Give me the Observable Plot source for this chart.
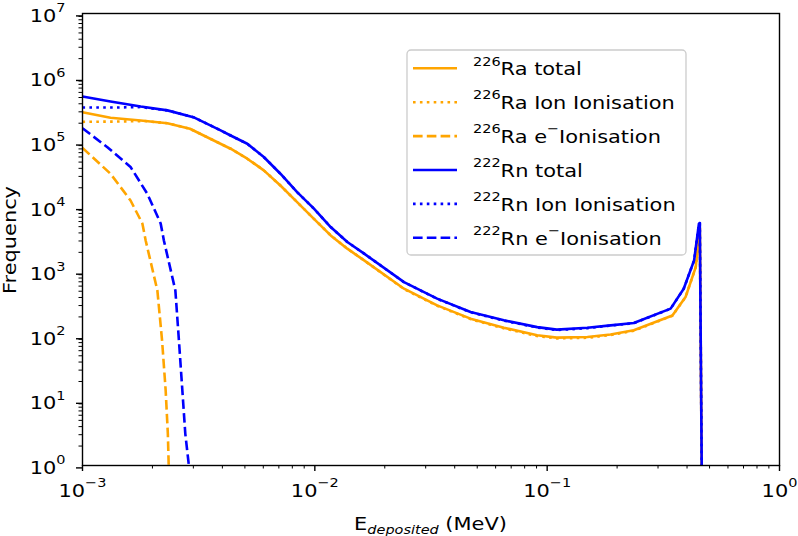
<!DOCTYPE html>
<html>
<head>
<meta charset="utf-8">
<script src="https://cdn.jsdelivr.net/npm/d3@7"></script>
<script src="https://cdn.jsdelivr.net/npm/@observablehq/plot@0.6"></script>
<style>
  html, body { margin: 0; padding: 0; background: #fff; }
  #chart { width: 798px; height: 536px; }
</style>
</head>
<body>
<div id="chart"></div>
<script>
// ---- Data ----
const raTotalE = [0.001, 0.00132, 0.00178, 0.00232, 0.0029, 0.00434, 0.00512, 0.00603, 0.00711, 0.00839, 0.00991, 0.0117, 0.0138, 0.0163, 0.0242, 0.0336, 0.0468, 0.0651, 0.0906, 0.110, 0.149, 0.1875, 0.236, 0.346, 0.394, 0.436, 0.454, 0.4625];
const raTotalF = [2.96e5, 2.43e5, 2.2e5, 2.0e5, 1.64e5, 8.05e4, 5.64e4, 3.72e4, 2.17e4, 1.2e4, 6.6e3, 3.66e3, 2.28e3, 1.5e3, 547, 302, 188, 136, 104, 95.5, 97.5, 107, 124, 211, 406, 1180, 4800, 1];

const raIonE = [0.001, 0.0014, 0.00185, 0.00232, 0.0029, 0.00434, 0.00512, 0.00603, 0.00711, 0.00839, 0.00991, 0.0117, 0.0138, 0.0163, 0.0242, 0.0336, 0.0468, 0.0651, 0.0906, 0.110, 0.149, 0.1875, 0.236, 0.346, 0.394, 0.436, 0.454, 0.4625];
const raIonF = [2.1e5, 2.12e5, 2.16e5, 2.0e5, 1.64e5, 8.05e4, 5.64e4, 3.72e4, 2.17e4, 1.2e4, 6.6e3, 3.66e3, 2.28e3, 1.5e3, 540, 298, 185, 133, 101, 93, 95, 105, 122, 209, 404, 1180, 4800, 1];

const raElecE = [0.001, 0.00132, 0.00161, 0.00181, 0.00187, 0.0021, 0.0022, 0.00228, 0.00233, 0.00235];
const raElecF = [8.3e4, 3.3e4, 1.27e4, 5.6e3, 3.06e3, 515, 87, 14.6, 3.1, 1];

const rnTotalE = [0.001, 0.00132, 0.00178, 0.00232, 0.003, 0.00393, 0.00434, 0.00512, 0.00603, 0.00711, 0.00839, 0.00991, 0.0117, 0.0138, 0.0163, 0.0242, 0.0336, 0.0468, 0.0651, 0.0906, 0.110, 0.149, 0.1875, 0.236, 0.34, 0.387, 0.429, 0.45, 0.454, 0.4625];
const rnTotalF = [5.2e5, 4.35e5, 3.63e5, 3.16e5, 2.48e5, 1.55e5, 1.29e5, 9.6e4, 6.0e4, 3.3e4, 1.71e4, 9.5e3, 4.93e3, 2.89e3, 1.91e3, 693, 384, 238, 177, 139, 127, 136, 148, 161, 269, 547, 1500, 5560, 5680, 1];

const rnIonE = [0.001, 0.0014, 0.00178, 0.00232, 0.003, 0.00393, 0.00434, 0.00512, 0.00603, 0.00711, 0.00839, 0.00991, 0.0117, 0.0138, 0.0163, 0.0242, 0.0336, 0.0468, 0.0651, 0.0906, 0.110, 0.149, 0.1875, 0.236, 0.34, 0.387, 0.429, 0.45, 0.454, 0.4625];
const rnIonF = [3.5e5, 3.5e5, 3.56e5, 3.16e5, 2.48e5, 1.55e5, 1.29e5, 9.6e4, 6.0e4, 3.3e4, 1.71e4, 9.5e3, 4.93e3, 2.89e3, 1.91e3, 690, 382, 236, 175, 137, 125, 134, 147, 160, 268, 545, 1500, 5560, 5680, 1];

const rnElecE = [0.001, 0.00128, 0.00161, 0.0019, 0.00217, 0.00224, 0.00251, 0.0026, 0.00269, 0.00277, 0.00287];
const rnElecF = [1.67e5, 8.5e4, 4.2e4, 1.62e4, 5.6e3, 3.06e3, 515, 87, 14.6, 3.1, 1];

const seriesLabels = ["^{226}Ra total", "^{226}Ra Ion Ionisation", "^{226}Ra e^{\u2212}Ionisation",
                      "^{222}Rn total", "^{222}Rn Ion Ionisation", "^{222}Rn e^{\u2212}Ionisation"];
const seriesColors = ["orange", "orange", "orange", "blue", "blue", "blue"];
const seriesDashes = [null, "2.6,4.3", "9.6,4.2", null, "2.6,4.3", "9.6,4.2"];
const seriesE = [raTotalE, raIonE, raElecE, rnTotalE, rnIonE, rnElecE];
const seriesF = [raTotalF, raIonF, raElecF, rnTotalF, rnIonF, rnElecF];

const xMajor = [1e-3, 1e-2, 1e-1, 1];
const yMajor = [1, 10, 100, 1e3, 1e4, 1e5, 1e6, 1e7];
const minorMult = [2, 3, 4, 5, 6, 7, 8, 9];
const xMinor = xMajor.slice(0, -1).flatMap(d => minorMult.map(m => d * m));
const yMinor = yMajor.slice(0, -1).flatMap(d => minorMult.map(m => d * m));

const expFmt = d => "10^" + String(Math.round(Math.log10(d))).replace("-", "\u2212");

const FS = 18.5;      // main font size
const SUP = 12.8;     // superscript font size
const STRETCH = 1.13; // horizontal glyph widening to match the reference

// ---- Plot ----
const lineMarks = seriesE.map((E, k) =>
  Plot.line(E.map((e, i) => ({e, f: seriesF[k][i]})), {
    x: "e", y: "f",
    stroke: seriesColors[k],
    strokeWidth: 2.6,
    strokeDasharray: seriesDashes[k] || undefined,
    strokeLinecap: "butt",
    strokeLinejoin: "round",
    clip: true
  })
);

const chart = Plot.plot({
  width: 798,
  height: 536,
  marginLeft: 82,
  marginRight: 19,
  marginTop: 13,
  marginBottom: 71,
  style: {fontFamily: "'DejaVu Sans', sans-serif", fontSize: FS + "px", background: "white", color: "black"},
  x: {type: "log", domain: [1e-3, 1]},
  y: {type: "log", domain: [1, 1e7]},
  marks: [
    ...lineMarks,
    Plot.axisX({ticks: xMinor, tickSize: 3.5, strokeWidth: 1, tickFormat: () => "", label: null}),
    Plot.axisX({ticks: xMajor, tickSize: 6, strokeWidth: 1.4, tickPadding: 11.9, tickFormat: expFmt, label: null}),
    Plot.axisY({ticks: yMinor, tickSize: 3.5, strokeWidth: 1, tickFormat: () => "", label: null}),
    Plot.axisY({ticks: yMajor, tickSize: 6, strokeWidth: 1.4, tickPadding: 11, dy: 2.4, tickFormat: expFmt, label: null}),
    Plot.frame({stroke: "black", strokeWidth: 1.4})
  ]
});

document.getElementById("chart").appendChild(chart);

// ---- Superscripts in tick labels ----
const svg = d3.select(chart);
svg.selectAll("text").each(function () {
  const t = this.textContent;
  const m = /^10\^(.+)$/.exec(t);
  if (m) {
    const el = d3.select(this);
    el.text("");
    el.append("tspan").text("10");
    el.append("tspan").attr("font-size", SUP + "px").attr("dy", "-9.5").text(m[1]);
  }
});

// ---- Axis titles ----
const xt = svg.append("text")
  .attr("x", 430.5).attr("y", 530)
  .attr("text-anchor", "middle")
  .attr("font-size", FS + "px")
  .attr("fill", "black");
xt.append("tspan").text("E");
xt.append("tspan").attr("font-size", SUP + "px").attr("font-style", "italic").attr("dy", 3.5).text("deposited");
xt.append("tspan").attr("dy", -3.5).text("\u00a0(MeV)");

svg.append("text")
  .attr("transform", "translate(16.2,240) rotate(-90)")
  .attr("text-anchor", "middle")
  .attr("font-size", FS + "px")
  .attr("fill", "black")
  .text("Frequency");

// ---- Legend ----
const lg = svg.append("g").attr("text-anchor", "start");
lg.append("rect")
  .attr("x", 407).attr("y", 50).attr("width", 279).attr("height", 205)
  .attr("rx", 4).attr("fill", "white").attr("fill-opacity", 0.8)
  .attr("stroke", "#cccccc").attr("stroke-width", 1.3);
seriesLabels.forEach((lab, i) => {
  const base = 75 + i * 33.9;
  const cy = base - 6.7;
  lg.append("line")
    .attr("x1", 413).attr("x2", 457).attr("y1", cy).attr("y2", cy)
    .attr("stroke", seriesColors[i]).attr("stroke-width", 2.6)
    .attr("stroke-dasharray", seriesDashes[i])
    .attr("stroke-linecap", "butt");
  const t = lg.append("text").attr("x", 473).attr("y", base)
    .attr("text-anchor", "start")
    .attr("font-size", FS + "px").attr("fill", "black");
  const parts = lab.split(/(\^\{[^}]*\})/).filter(s => s.length);
  let raised = false;
  parts.forEach(p => {
    const m = /^\^\{(.*)\}$/.exec(p);
    if (m) {
      t.append("tspan").attr("font-size", SUP + "px").attr("dy", raised ? 0 : -9.5).text(m[1]);
      raised = true;
    } else {
      t.append("tspan").attr("dy", raised ? 9.5 : 0).text(p);
      raised = false;
    }
  });
});

// ---- Widen glyphs slightly to match the reference's text proportions ----
svg.selectAll("text").each(function () {
  if (!this.textContent || !this.textContent.trim()) return;
  const len = this.getComputedTextLength();
  if (len > 0) {
    this.setAttribute("textLength", (len * STRETCH).toFixed(2));
    this.setAttribute("lengthAdjust", "spacingAndGlyphs");
  }
});
</script>
</body>
</html>
